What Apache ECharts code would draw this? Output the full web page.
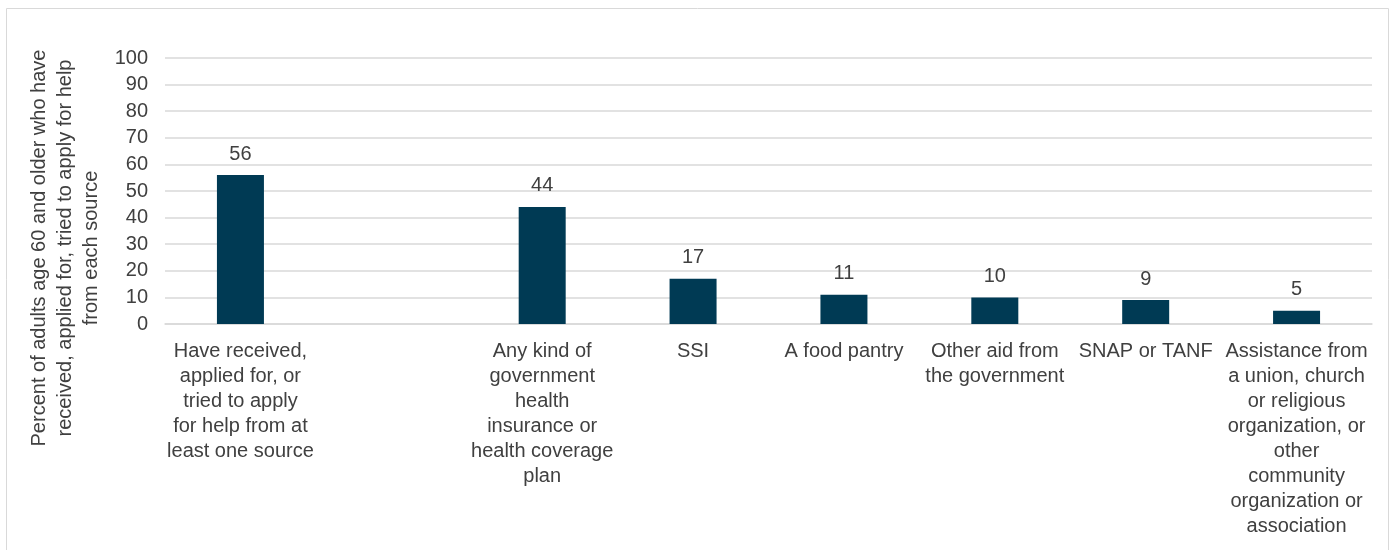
<!DOCTYPE html>
<html>
<head>
<meta charset="utf-8">
<script src="https://cdn.jsdelivr.net/npm/echarts@6/dist/echarts.min.js"></script>
<style>
html,body{margin:0;padding:0;background:#fff;}
#chart{width:1392px;height:550px;}
</style>
</head>
<body>
<div id="chart"></div>
<script>
const categories = [
  "Have received,\napplied for, or\ntried to apply\nfor help from at\nleast one source",
  "",
  "Any kind of\ngovernment\nhealth\ninsurance or\nhealth coverage\nplan",
  "SSI",
  "A food pantry",
  "Other aid from\nthe government",
  "SNAP or TANF",
  "Assistance from\na union, church\nor religious\norganization, or\nother\ncommunity\norganization or\nassociation"
];
const values = [56, null, 44, 17, 11, 10, 9, 5];
const yTicks = [0, 10, 20, 30, 40, 50, 60, 70, 80, 90, 100];
const yAxisTitle = "Percent of adults age 60 and older who have\nreceived, applied for, tried to apply for help\nfrom each source";

const FONT = "Liberation Sans";
const TEXT = "#404040";
const chart = echarts.init(document.getElementById('chart'));
chart.setOption({
  animation: false,
  textStyle: { fontFamily: FONT },
  graphic: [{
    type: 'rect',
    shape: { x: 6.5, y: 8.5, width: 1382, height: 560 },
    style: { fill: 'none', stroke: '#d9d9d9', lineWidth: 1 },
    silent: true
  }, {
    type: 'text',
    x: 65,
    y: 248,
    rotation: Math.PI / 2,
    style: {
      text: yAxisTitle,
      fill: TEXT,
      font: '20px "Liberation Sans"',
      lineHeight: 26,
      align: 'center',
      verticalAlign: 'middle'
    },
    silent: true
  }],
  grid: { left: 165, right: 20, top: 58, bottom: 226, containLabel: false },
  xAxis: {
    type: 'category',
    data: categories,
    axisLine: { show: true, lineStyle: { color: '#d9d9d9', width: 1.5 } },
    axisTick: { show: false },
    axisLabel: {
      interval: 0,
      color: TEXT,
      fontSize: 20,
      lineHeight: 25,
      margin: 15,
      fontFamily: FONT
    }
  },
  yAxis: {
    type: 'value',
    min: yTicks[0],
    max: yTicks[yTicks.length - 1],
    interval: 10,
    axisLine: { show: false },
    axisTick: { show: false },
    axisLabel: { color: TEXT, fontSize: 20, margin: 17, fontFamily: FONT },
    splitLine: { show: true, lineStyle: { color: '#d9d9d9', width: 1.5 } }
  },
  series: [{
    type: 'bar',
    data: values,
    barWidth: 47,
    itemStyle: { color: '#003a54' },
    label: {
      show: true,
      position: 'top',
      distance: 11,
      color: TEXT,
      fontSize: 20,
      fontFamily: FONT
    }
  }]
});
</script>
</body>
</html>
